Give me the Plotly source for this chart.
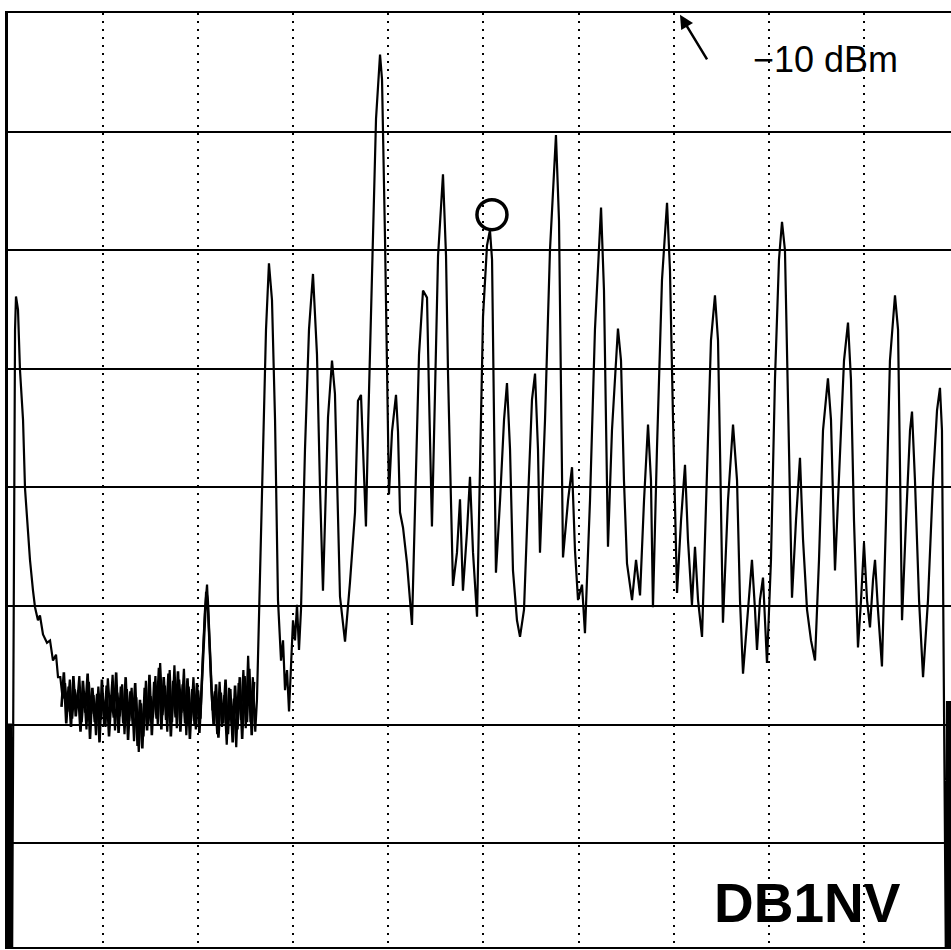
import plotly.graph_objects as go

# ---- Spectrum analyser trace, x in divisions (10 div span), level in dBm (10 dB/div, ref -10 dBm)
start_div = [0.000, 0.010, 0.020, 0.030, 0.042]
start_dbm = [-92.0, -69.9, -92.0, -69.9, -92.0]

skirt_div = [0.053, 0.063, 0.074, 0.084, 0.105, 0.126, 0.158, 0.179, 0.210, 0.231, 0.263,
             0.284, 0.315, 0.336, 0.368, 0.410, 0.442, 0.473, 0.505, 0.526]
skirt_dbm = [-67.9, -44.3, -36.7, -33.9, -35.0, -40.1, -44.3, -50.1, -53.6, -56.1, -58.7,
             -60.1, -61.2, -60.8, -62.4, -63.1, -62.9, -64.6, -64.1, -66.0]

floor_div = [0.550, 0.575, 0.600, 0.625, 0.650, 0.675, 0.700, 0.725, 0.750, 0.775,
             0.800, 0.825, 0.850, 0.875, 0.900, 0.925, 0.950, 0.975, 1.000, 1.025,
             1.050, 1.075, 1.100, 1.125, 1.150, 1.175, 1.200, 1.225, 1.250, 1.275,
             1.300, 1.325, 1.350, 1.375, 1.400, 1.425, 1.450, 1.475, 1.500, 1.525,
             1.550, 1.575, 1.600, 1.625, 1.650, 1.675, 1.700, 1.725, 1.750, 1.775,
             1.800, 1.825, 1.850, 1.875, 1.900, 1.925, 1.950, 1.975, 2.000, 2.025,
             2.050, 2.070, 2.093, 2.110, 2.130, 2.150, 2.175, 2.200, 2.225, 2.250,
             2.275, 2.300, 2.325, 2.350, 2.375, 2.400, 2.425, 2.450, 2.475, 2.500,
             2.525, 2.550, 2.575, 2.600]
floor_dbm = [-66.0, -67.8, -66.5, -68.9, -66.2, -69.5, -67.0, -68.4, -65.9, -69.8,
             -67.2, -70.4, -66.4, -69.1, -67.5, -70.9, -66.8, -69.6, -67.9, -70.2,
             -66.1, -69.0, -65.8, -70.5, -67.3, -69.3, -66.6, -70.8, -67.0, -69.7,
             -66.9, -71.4, -67.7, -72.3, -68.2, -71.0, -66.3, -70.1, -67.6, -69.4,
             -65.9, -70.0, -64.8, -69.2, -66.7, -70.6, -65.4, -69.8, -65.0, -70.3,
             -66.2, -69.0, -65.3, -70.9, -66.8, -69.7, -66.0, -70.4, -67.1, -69.5,
             -64.0, -60.5, -58.2, -61.0, -65.5, -68.8, -67.2, -70.8, -66.4, -70.2,
             -67.5, -71.7, -66.9, -70.0, -67.8, -71.9, -66.5, -69.6, -65.4, -70.3,
             -64.2, -69.8, -66.0, -70.6]

# second overlapping sweep of the noise floor (dense band in the photo)
floor2_div = [0.5625, 0.5875, 0.6125, 0.6375, 0.6625, 0.6875, 0.7125, 0.7375, 0.7625, 0.7875,
              0.8125, 0.8375, 0.8625, 0.8875, 0.9125, 0.9375, 0.9625, 0.9875, 1.0125, 1.0375,
              1.0625, 1.0875, 1.1125, 1.1375, 1.1625, 1.1875, 1.2125, 1.2375, 1.2625, 1.2875,
              1.3125, 1.3375, 1.3625, 1.3875, 1.4125, 1.4375, 1.4625, 1.4875, 1.5125, 1.5375,
              1.5625, 1.5875, 1.6125, 1.6375, 1.6625, 1.6875, 1.7125, 1.7375, 1.7625, 1.7875,
              1.8125, 1.8375, 1.8625, 1.8875, 1.9125, 1.9375, 1.9625, 1.9875, 2.0125, 2.0375,
              2.0600, 2.0850, 2.1000, 2.1200, 2.1400, 2.1625, 2.1875, 2.2125, 2.2375, 2.2625,
              2.2875, 2.3125, 2.3375, 2.3625, 2.3875, 2.4125, 2.4375, 2.4625, 2.4875, 2.5125,
              2.5375, 2.5625, 2.5875]
floor2_dbm = [-68.5, -65.6, -69.9, -66.8, -70.2, -65.9, -69.3, -67.1, -70.6, -66.3,
              -69.0, -65.7, -71.2, -66.9, -69.8, -67.4, -71.5, -66.2, -70.1, -66.7,
              -71.0, -67.5, -69.4, -65.6, -70.7, -66.8, -69.9, -66.0, -71.3, -67.2,
              -70.0, -66.5, -71.8, -67.9, -72.0, -66.9, -70.5, -65.8, -70.9, -66.4,
              -69.5, -65.2, -70.4, -66.0, -69.6, -65.7, -71.0, -66.3, -69.4, -65.5,
              -70.6, -66.6, -69.9, -66.1, -71.2, -67.0, -70.0, -66.5, -70.7, -66.2,
              -62.0, -58.8, -59.5, -63.5, -67.0, -70.1, -66.6, -71.1, -67.3, -69.9,
              -66.2, -70.8, -67.0, -71.5, -66.7, -70.4, -66.0, -71.2, -65.9, -69.8,
              -65.3, -70.9, -66.4]

comb_div = [2.618, 2.671, 2.713, 2.744, 2.776, 2.808, 2.839, 2.871, 2.892, 2.913, 2.934,
            2.955, 2.976, 2.997, 3.018, 3.039, 3.060, 3.081, 3.123, 3.165, 3.207, 3.249,
            3.281, 3.312, 3.365, 3.407, 3.438, 3.459, 3.491, 3.544, 3.596, 3.649, 3.680,
            3.712, 3.733, 3.764, 3.785, 3.828, 3.870, 3.912, 3.933, 3.964, 3.985, 4.006,
            4.038, 4.080, 4.101, 4.122, 4.154, 4.196, 4.248, 4.301, 4.322, 4.364, 4.406,
            4.427, 4.458, 4.490, 4.522, 4.574, 4.606, 4.627, 4.648, 4.679, 4.721, 4.753,
            4.784, 4.826, 4.858, 4.890, 4.932, 4.963, 4.995, 5.037, 5.068, 5.090, 5.110,
            5.131, 5.174, 5.216, 5.247, 5.279, 5.310, 5.352, 5.384, 5.426, 5.468, 5.510,
            5.542, 5.573, 5.594, 5.647, 5.699, 5.762, 5.794, 5.815, 5.836, 5.889, 5.931,
            5.962, 5.994, 6.036, 6.067, 6.120, 6.172, 6.236, 6.267, 6.288, 6.309, 6.351,
            6.414, 6.446, 6.477, 6.509, 6.562, 6.604, 6.646, 6.688, 6.730, 6.761, 6.782,
            6.824, 6.877, 6.930, 6.961, 6.993, 7.035, 7.077, 7.119, 7.150, 7.192, 7.224,
            7.256, 7.298, 7.340, 7.392, 7.434, 7.466, 7.487, 7.518, 7.571, 7.624, 7.666,
            7.697, 7.729, 7.771, 7.823, 7.855, 7.876, 7.907, 7.939, 7.960, 7.981, 8.023,
            8.065, 8.107, 8.139, 8.170, 8.202, 8.244, 8.286, 8.328, 8.360, 8.402, 8.444,
            8.486, 8.528, 8.570, 8.622, 8.654, 8.696, 8.738, 8.791, 8.833, 8.864, 8.896,
            8.938, 8.970, 9.001, 9.033, 9.064, 9.096, 9.117, 9.148, 9.190, 9.232, 9.274,
            9.327, 9.359, 9.380, 9.401, 9.443, 9.485, 9.506, 9.537, 9.580, 9.622, 9.674,
            9.727, 9.769, 9.800, 9.821, 9.843, 9.864]
comb_dbm = [-67.9, -51.1, -36.7, -31.1, -34.2, -44.3, -59.5, -64.6, -62.9, -67.1, -65.4,
            -68.9, -64.6, -61.2, -62.9, -59.9, -63.7, -60.3, -46.8, -36.7, -32.0, -38.8,
            -50.1, -58.7, -44.1, -39.3, -42.1, -48.7, -59.2, -63.0, -58.0, -52.1, -42.7,
            -42.2, -47.1, -53.3, -45.4, -32.2, -18.9, -13.5, -15.6, -28.8, -42.0, -50.6,
            -45.3, -42.2, -45.3, -52.1, -53.4, -56.4, -61.6, -45.3, -38.8, -33.4, -34.0,
            -42.1, -53.3, -42.1, -30.5, -23.6, -30.5, -40.4, -48.8, -58.3, -55.5, -51.0,
            -58.7, -53.8, -49.1, -55.5, -60.9, -48.8, -35.6, -29.6, -28.3, -30.8, -42.6,
            -57.2, -51.1, -44.3, -41.2, -46.8, -57.0, -61.2, -62.6, -60.3, -51.1, -42.6,
            -40.4, -46.8, -55.5, -44.3, -30.0, -20.3, -27.5, -42.6, -55.9, -51.1, -48.3,
            -55.3, -59.5, -58.2, -62.3, -51.1, -36.7, -26.4, -33.4, -44.3, -55.0, -45.2,
            -36.6, -39.3, -49.4, -56.4, -59.5, -56.1, -59.1, -51.1, -44.7, -49.4, -60.1,
            -46.8, -32.5, -26.0, -31.7, -44.3, -58.9, -52.8, -48.1, -54.4, -59.9, -55.0,
            -59.5, -62.6, -51.1, -37.6, -33.8, -37.6, -46.8, -61.4, -51.1, -44.7, -49.4,
            -59.5, -65.7, -61.2, -56.1, -60.3, -63.7, -59.5, -57.6, -61.2, -64.8, -56.1,
            -40.9, -30.8, -27.6, -30.0, -42.6, -59.3, -52.8, -47.5, -54.4, -60.3, -62.9,
            -64.6, -56.1, -45.2, -40.8, -44.3, -57.0, -48.5, -39.3, -36.1, -40.9, -52.8,
            -63.5, -59.5, -54.7, -59.5, -61.8, -57.8, -56.1, -60.3, -65.1, -52.8, -39.3,
            -33.8, -36.7, -48.5, -61.2, -52.8, -45.2, -43.6, -49.4, -59.5, -66.0, -59.5,
            -49.4, -43.5, -41.6, -45.2, -67.9, -92.0]

end_div = [9.874, 9.884, 9.894, 9.904, 9.914, 9.924]
end_dbm = [-68.0, -92.0, -68.0, -92.0, -68.0, -92.0]

# analyser marker (circle) and labels
marker_div = [5.089]
marker_dbm = [-27.0]
ref_label = "\u221210 dBm"
ref_arrow_div = 7.066
ref_arrow_dbm = -10.15
callsign = "DB1NV"

trace_x = start_div + skirt_div + floor_div + comb_div + end_div
trace_y = start_dbm + skirt_dbm + floor_dbm + comb_dbm + end_dbm

fig = go.Figure()
fig.add_trace(go.Scatter(x=floor2_div, y=floor2_dbm, mode="lines",
                         line=dict(color="black", width=2.6), hoverinfo="skip"))
fig.add_trace(go.Scatter(x=trace_x, y=trace_y, mode="lines",
                         line=dict(color="black", width=2.2), hoverinfo="skip"))
fig.add_trace(go.Scatter(x=marker_div, y=marker_dbm, mode="markers",
                         marker=dict(symbol="circle-open", size=30,
                                     line=dict(color="black", width=3.5), color="black"),
                         hoverinfo="skip", cliponaxis=False))

fig.add_annotation(x=ref_arrow_div, y=ref_arrow_dbm, xref="x", yref="y", text="",
                   showarrow=True, ax=28, ay=46, arrowhead=2, arrowsize=1.1,
                   arrowwidth=2.5, arrowcolor="black")
fig.add_annotation(x=8.60, y=-13.9, xref="x", yref="y", text=ref_label, showarrow=False,
                   font=dict(family="Liberation Sans, Arial", size=36, color="black"))
fig.add_annotation(x=8.41, y=-85.0, xref="x", yref="y", text="<b>" + callsign + "</b>",
                   showarrow=False,
                   font=dict(family="Liberation Sans, Arial", size=55, color="black"))

fig.update_layout(
    width=951, height=950,
    margin=dict(l=8, r=0, t=13, b=3),
    paper_bgcolor="white", plot_bgcolor="white",
    showlegend=False,
    xaxis=dict(range=[0, 9.916], tickvals=[1, 2, 3, 4, 5, 6, 7, 8, 9],
               showticklabels=False, ticks="", showgrid=True, gridcolor="black",
               gridwidth=2, griddash="2px,6px", zeroline=False,
               showline=True, mirror=True, linecolor="black", linewidth=2),
    yaxis=dict(range=[-88.75, -10], tickvals=[-20, -30, -40, -50, -60, -70, -80],
               showticklabels=False, ticks="", showgrid=True, gridcolor="black",
               gridwidth=2, zeroline=False,
               showline=True, mirror=False, linecolor="black", linewidth=3),
)

fig.write_html("out.html")
